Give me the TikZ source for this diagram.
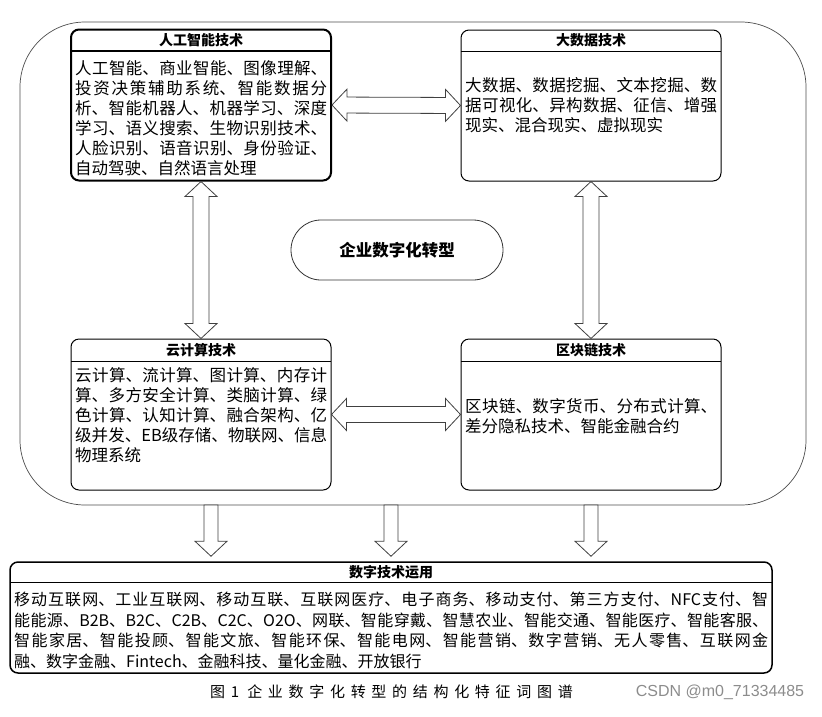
\documentclass[tikz,border=0pt]{standalone}
\usepackage{fontspec}
\setmainfont{Noto Sans CJK SC}
\newfontfamily\capfont[LetterSpace=38]{Noto Sans CJK SC}
\newfontfamily\wmfont{Liberation Sans}
\usetikzlibrary{positioning,calc}
\XeTeXlinebreaklocale "zh"
\XeTeXlinebreakskip=0pt plus 3pt minus 0.4pt
\setlength\parindent{0pt}

\tikzset{
  frame/.style={draw=black!70,line width=0.7pt,rounded corners=65pt,minimum width=786pt,minimum height=483pt,inner sep=0pt},
  techbox/.style={draw=black,line width=1pt,rounded corners=8pt,minimum width=260pt,minimum height=151pt,inner sep=0pt},
  boxtitle/.style={minimum width=260pt,minimum height=22pt,inner sep=0pt,font=\fontsize{14}{16}\selectfont\bfseries},
  boxtext/.style={anchor=north west,inner sep=0pt,text width=252pt,align=justify,font=\fontsize{16.5}{20}\selectfont},
  blockarrow/.style={draw=black!75,line width=0.8pt,fill=white,line join=miter},
}

\newcommand\dblarrow[2]{\path[blockarrow] let \p1=(#1), \p2=(#2), \n1={atan2(\y2-\y1,\x2-\x1)}, \n2={veclen(\x2-\x1,\y2-\y1)} in [shift={(\p1)},rotate=\n1] (0pt,0pt) -- (15pt,16pt) -- (15pt,8pt) -- ({(\n2-15)*1pt},8pt) -- ({(\n2-15)*1pt},16pt) -- ({\n2*1pt},0pt) -- ({(\n2-15)*1pt},-16pt) -- ({(\n2-15)*1pt},-8pt) -- (15pt,-8pt) -- (15pt,-16pt) -- cycle;}
\newcommand\sglarrow[2]{\path[blockarrow] let \p1=(#1), \p2=(#2), \n1={atan2(\y2-\y1,\x2-\x1)}, \n2={veclen(\x2-\x1,\y2-\y1)} in [shift={(\p1)},rotate=\n1] (0pt,7pt) -- ({(\n2-15)*1pt},7pt) -- ({(\n2-15)*1pt},16pt) -- ({\n2*1pt},0pt) -- ({(\n2-15)*1pt},-16pt) -- ({(\n2-15)*1pt},-7pt) -- (0pt,-7pt) -- cycle;}

\begin{document}
\begin{tikzpicture}[x=1pt,y=-1pt]
\useasboundingbox (0,0) rectangle (822,716);
\node[frame] (frame) at (413,263.5) {};

% the four technology boxes
\node[techbox,line width=2pt] (ai) at (201,105) {};
\node[boxtitle,below=0pt of ai.north] (aiT) {人工智能技术};
\draw[line width=2pt] (aiT.south west) -- (aiT.south east);
\node[boxtext] (aiX) at (75,60) {人工智能、商业智能、图像理解、\linebreak 投资决策辅助系统、智能数据分\linebreak 析、智能机器人、机器学习、深度\linebreak 学习、语义搜索、生物识别技术、\linebreak 人脸识别、语音识别、身份验证、\linebreak 自动驾驶、自然语言处理};

\node[techbox] (bd) at (591,105.5) {};
\node[boxtitle,below=0pt of bd.north] (bdT) {大数据技术};
\draw[line width=1pt] (bdT.south west) -- (bdT.south east);
\node[boxtext] (bdX) at (465,77) {大数据、数据挖掘、文本挖掘、数\linebreak 据可视化、异构数据、征信、增强\linebreak 现实、混合现实、虚拟现实};

\node[techbox] (cc) at (201,414.5) {};
\node[boxtitle,below=0pt of cc.north,minimum height=23pt] (ccT) {云计算技术};
\draw[line width=1pt] (ccT.south west) -- (ccT.south east);
\node[boxtext] (ccX) at (75,367) {云计算、流计算、图计算、内存计\linebreak 算、多方安全计算、类脑计算、绿\linebreak 色计算、认知计算、融合架构、亿\linebreak 级并发、EB级存储、物联网、信息\linebreak 物理系统};

\node[techbox] (bc) at (591,414.5) {};
\node[boxtitle,below=0pt of bc.north,minimum height=23pt] (bcT) {区块链技术};
\draw[line width=1pt] (bcT.south west) -- (bcT.south east);
\node[boxtext] (bcX) at (465,398) {区块链、数字货币、分布式计算、\linebreak 差分隐私技术、智能金融合约};

\node[draw=black!80,line width=0.8pt,rounded corners=30pt,minimum width=212pt,minimum height=60pt,font=\fontsize{16.5}{20}\selectfont\bfseries] (core) at (397,250) {企业数字化转型};

% application box
\node[techbox,line width=1.5pt,minimum width=762pt,minimum height=111pt] (app) at (391,617.5) {};
\node[boxtitle,below=0pt of app.north,minimum width=762pt,minimum height=21pt] (appT) {数字技术运用};
\draw[line width=1.5pt] (appT.south west) -- (appT.south east);
\node[boxtext,text width=754pt,font=\fontsize{16}{20.5}\selectfont] (appX) at (14,592) {移动互联网、工业互联网、移动互联、互联网医疗、电子商务、移动支付、第三方支付、NFC支付、智\linebreak 能能源、B2B、B2C、C2B、C2C、O2O、网联、智能穿戴、智慧农业、智能交通、智能医疗、智能客服、\linebreak 智能家居、智能投顾、智能文旅、智能环保、智能电网、智能营销、数字营销、无人零售、互联网金\linebreak 融、数字金融、Fintech、金融科技、量化金融、开放银行};

% block arrows
\dblarrow{ai.east}{bd.west}
\dblarrow{cc.east}{bc.west}
\dblarrow{ai.south}{cc.north}
\dblarrow{bd.south}{bc.north}
\coordinate (d1) at (211,505);
\coordinate (d2) at (391,505);
\coordinate (d3) at (591,505);
\sglarrow{d1}{$(d1 |- app.north)+(0,-5)$}
\sglarrow{d2}{$(d2 |- app.north)+(0,-5)$}
\sglarrow{d3}{$(d3 |- app.north)+(0,-5)$}

\node[font=\fontsize{15}{18}\capfont] (cap) at (391.5,692) {图1\hspace{8pt}企业数字化转型的结构化特征词图谱};
\node[font=\fontsize{16}{18}\wmfont,text=black!45] (wm) at (720,692) {CSDN @m0\_71334485};
\end{tikzpicture}
\end{document}
